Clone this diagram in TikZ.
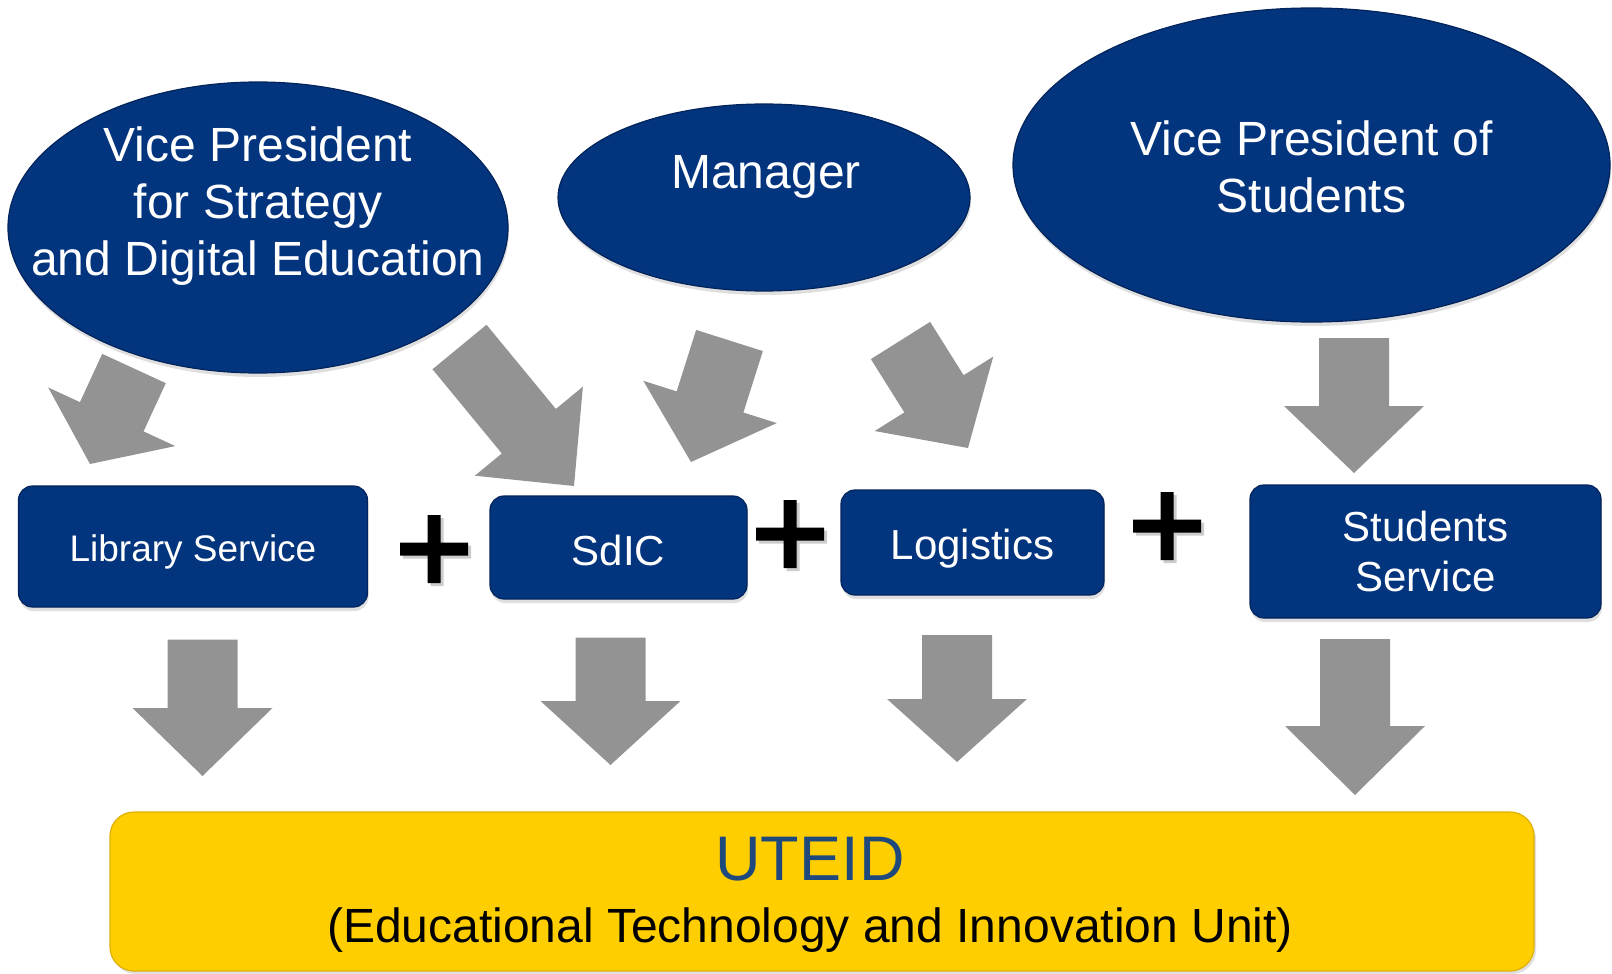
\documentclass[tikz,border=0pt]{standalone}
\usepackage{fontspec}
\setmainfont{Liberation Sans}
\usepackage{tikz}
\usetikzlibrary{shapes.geometric}
\usetikzlibrary{calc}
\usetikzlibrary{shadows}

\definecolor{unitblue}{RGB}{3,52,126}
\definecolor{unitbluedark}{RGB}{2,36,90}
\definecolor{arrowgray}{RGB}{147,147,147}
\definecolor{unityellow}{RGB}{255,206,0}
\definecolor{unitgold}{RGB}{222,176,0}
\definecolor{titleblue}{RGB}{31,73,125}

% block arrow: tail, tip, head length
\newcommand{\fatarrow}[3]{%
	\coordinate (hb) at ($(#2)!#3!(#1)$);
	\fill[arrowgray] ($(#1)!35pt!90:(#2)$) -- ($(hb)!35pt!90:(#2)$) -- ($(hb)!70pt!90:(#2)$) -- (#2)
		-- ($(hb)!70pt!-90:(#2)$) -- ($(hb)!35pt!-90:(#2)$) -- ($(#1)!35pt!-90:(#2)$) -- cycle;}

\begin{document}
\begin{tikzpicture}[x=1pt, y=-1pt]
				\tikzstyle{ovalnode}=[ellipse, fill=unitblue, draw=unitbluedark, line width=1.2pt, inner sep=0pt, drop shadow={opacity=0.25, shadow xshift=1pt, shadow yshift=-4pt}]
				\tikzstyle{ovaltext}=[text=white, align=center, font=\fontsize{48}{57}\selectfont]
				\tikzstyle{unitnode}=[rectangle, rounded corners=14pt, fill=unitblue, draw=unitbluedark, line width=1.2pt, text=white, align=center, font=\fontsize{42}{50}\selectfont, drop shadow={opacity=0.25, shadow xshift=1pt, shadow yshift=-4pt}]
				\tikzstyle{plusnode}=[minimum size=84pt, inner sep=0pt, path picture={
					\fill[black!50, opacity=0.4, shift={(path picture bounding box.center)}] (-31,-3.5) rectangle (37,9.5) (-3.5,-31) rectangle (9.5,37);
					\fill[black, shift={(path picture bounding box.center)}] (-34,-6.5) rectangle (34,6.5) (-6.5,-34) rectangle (6.5,34);}]
				
				\useasboundingbox (0,0) rectangle (1612,974);
				
				\node (vpsd) at (258,227.5) [ovalnode, minimum width=500pt, minimum height=291pt] {};
				\node (mgr) at (764,197.5) [ovalnode, minimum width=412pt, minimum height=187pt] {};
				\node (vps) at (1311.5,165) [ovalnode, minimum width=597pt, minimum height=314pt] {};
				
				\node (vpsdT) at ([yshift=21pt]vpsd.center) [ovaltext] {Vice President\\for Strategy\\and Digital Education};
				\node (mgrT) at ([xshift=2pt, yshift=21pt]mgr.center) [ovaltext] {Manager};
				\node (vpsT) at ([yshift=-2pt]vps.center) [ovaltext] {Vice President of\\Students};
				
				\node (lib) at (193,546.5) [unitnode, minimum width=349pt, minimum height=121pt, font=\fontsize{37}{44}\selectfont, text height=37pt] {Library Service};
				\node (sdic) at (618.5,547.5) [unitnode, minimum width=257pt, minimum height=103pt, text height=37pt] {SdIC};
				\node (logi) at (972.5,542.5) [unitnode, minimum width=263pt, minimum height=105pt, text height=43pt] {Logistics};
				\node (stud) at (1425.5,551.5) [unitnode, minimum width=351pt, minimum height=133pt] {Students\\Service};
				
				\node (plus1) at (434,549) [plusnode] {};
				\node (plus2) at (790,534) [plusnode] {};
				\node (plus3) at (1167,526) [plusnode] {};
				
				\node (uteid) at (822,891.5) [rectangle, rounded corners=24pt, fill=unityellow, draw=unitgold, line width=1.2pt, minimum width=1424pt, minimum height=159pt, drop shadow={opacity=0.25, shadow xshift=2pt, shadow yshift=-3pt}] {};
				\node (uteidT) at (810,859) [text=titleblue, font=\fontsize{63}{70}\selectfont] {UTEID};
				\node (uteidS) at (810,930) [font=\fontsize{48}{57}\selectfont] {(Educational Technology and Innovation Unit)};
				
				% arrow ends
				\coordinate (a1s) at (134,368.5);  \coordinate (a1e) at (90,464);
				\coordinate (a2s) at (459.5,347);  \coordinate (a2e) at (574,486);
				\coordinate (a3s) at (729.5,340.5); \coordinate (a3e) at (691,462);
				\coordinate (a4s) at (900.5,340.5); \coordinate (a4e) at (968,448);
				\coordinate (a5s) at (1354,338);   \coordinate (a5e) at (1354,473);
				\coordinate (b1s) at (202.5,639.5); \coordinate (b1e) at (202.5,776);
				\coordinate (b2s) at (610.5,637.5); \coordinate (b2e) at (610.5,765);
				\coordinate (b3s) at (957,635);    \coordinate (b3e) at (957,762);
				\coordinate (b4s) at (1355,639);   \coordinate (b4e) at (1355,795);
				
				\fatarrow{a1s}{a1e}{52pt}
				\fatarrow{a2s}{a2e}{71pt}
				\fatarrow{a3s}{a3e}{63pt}
				\fatarrow{a4s}{a4e}{64pt}
				\fatarrow{a5s}{a5e}{67pt}
				
				\fatarrow{b1s}{b1e}{68pt}
				\fatarrow{b2s}{b2e}{64pt}
				\fatarrow{b3s}{b3e}{63pt}
				\fatarrow{b4s}{b4e}{69pt}
				\end{tikzpicture}
\end{document}
